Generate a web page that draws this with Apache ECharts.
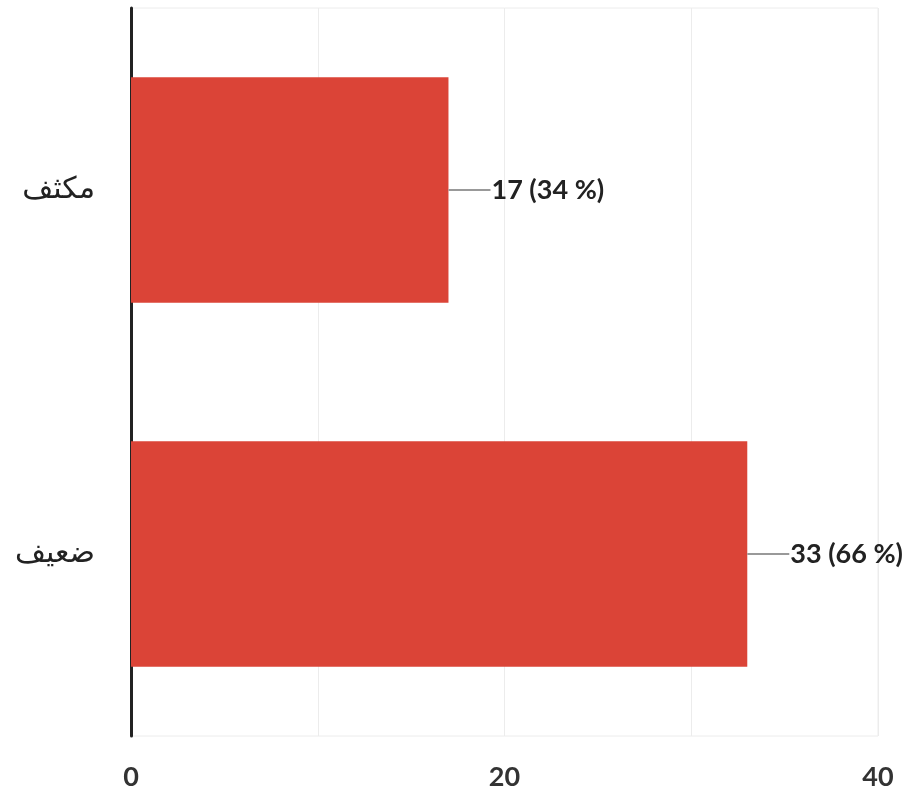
<!DOCTYPE html>
<html>
<head>
<meta charset="utf-8">
<script src="https://cdn.jsdelivr.net/npm/echarts@6/dist/echarts.min.js"></script>
<style>html,body{margin:0;padding:0;background:#fff}#c{width:908px;height:793px}</style>
</head>
<body>
<div id="c"></div>
<script>
const categories = ['مكثف', 'ضعيف'];
const counts = [17, 33];
const percents = [34, 66];
const xTicks = [0, 20, 40];

const chart = echarts.init(document.getElementById('c'));
chart.setOption({
  animation: false,
  grid: { left: 131, right: 30, top: 8, bottom: 57, show: true, borderColor: '#ececec', borderWidth: 1 },
  xAxis: {
    type: 'value', min: 0, max: 40, interval: 10,
    axisLine: { show: false }, axisTick: { show: false },
    splitLine: { lineStyle: { color: '#ececec', width: 1 } },
    axisLabel: {
      margin: 28, fontSize: 27, color: '#333', fontFamily: 'Lato', fontWeight: 'bold',
      formatter: v => xTicks.includes(v) ? String(v) : ''
    }
  },
  yAxis: {
    type: 'category', inverse: true, data: categories,
    axisLine: { show: true, lineStyle: { color: '#222', width: 3 } },
    axisTick: { show: false },
    splitLine: { show: false },
    axisLabel: { margin: 36, fontSize: 30, color: '#222', fontFamily: 'DejaVu Sans' }
  },
  series: [{
    type: 'bar',
    data: counts,
    barWidth: '62%',
    itemStyle: { color: '#DB4437' },
    label: {
      show: true, position: 'right', distance: 0,
      formatter: p => '{line|}{txt|' + counts[p.dataIndex] + ' (' + percents[p.dataIndex] + ' %)}',
      rich: {
        line: { width: 42, height: 2, backgroundColor: '#999', verticalAlign: 'middle' },
        txt: { fontSize: 27, color: '#222', fontFamily: 'Lato', fontWeight: 'bold', padding: [0, 0, 0, 1] }
      }
    }
  }]
});
</script>
</body>
</html>
